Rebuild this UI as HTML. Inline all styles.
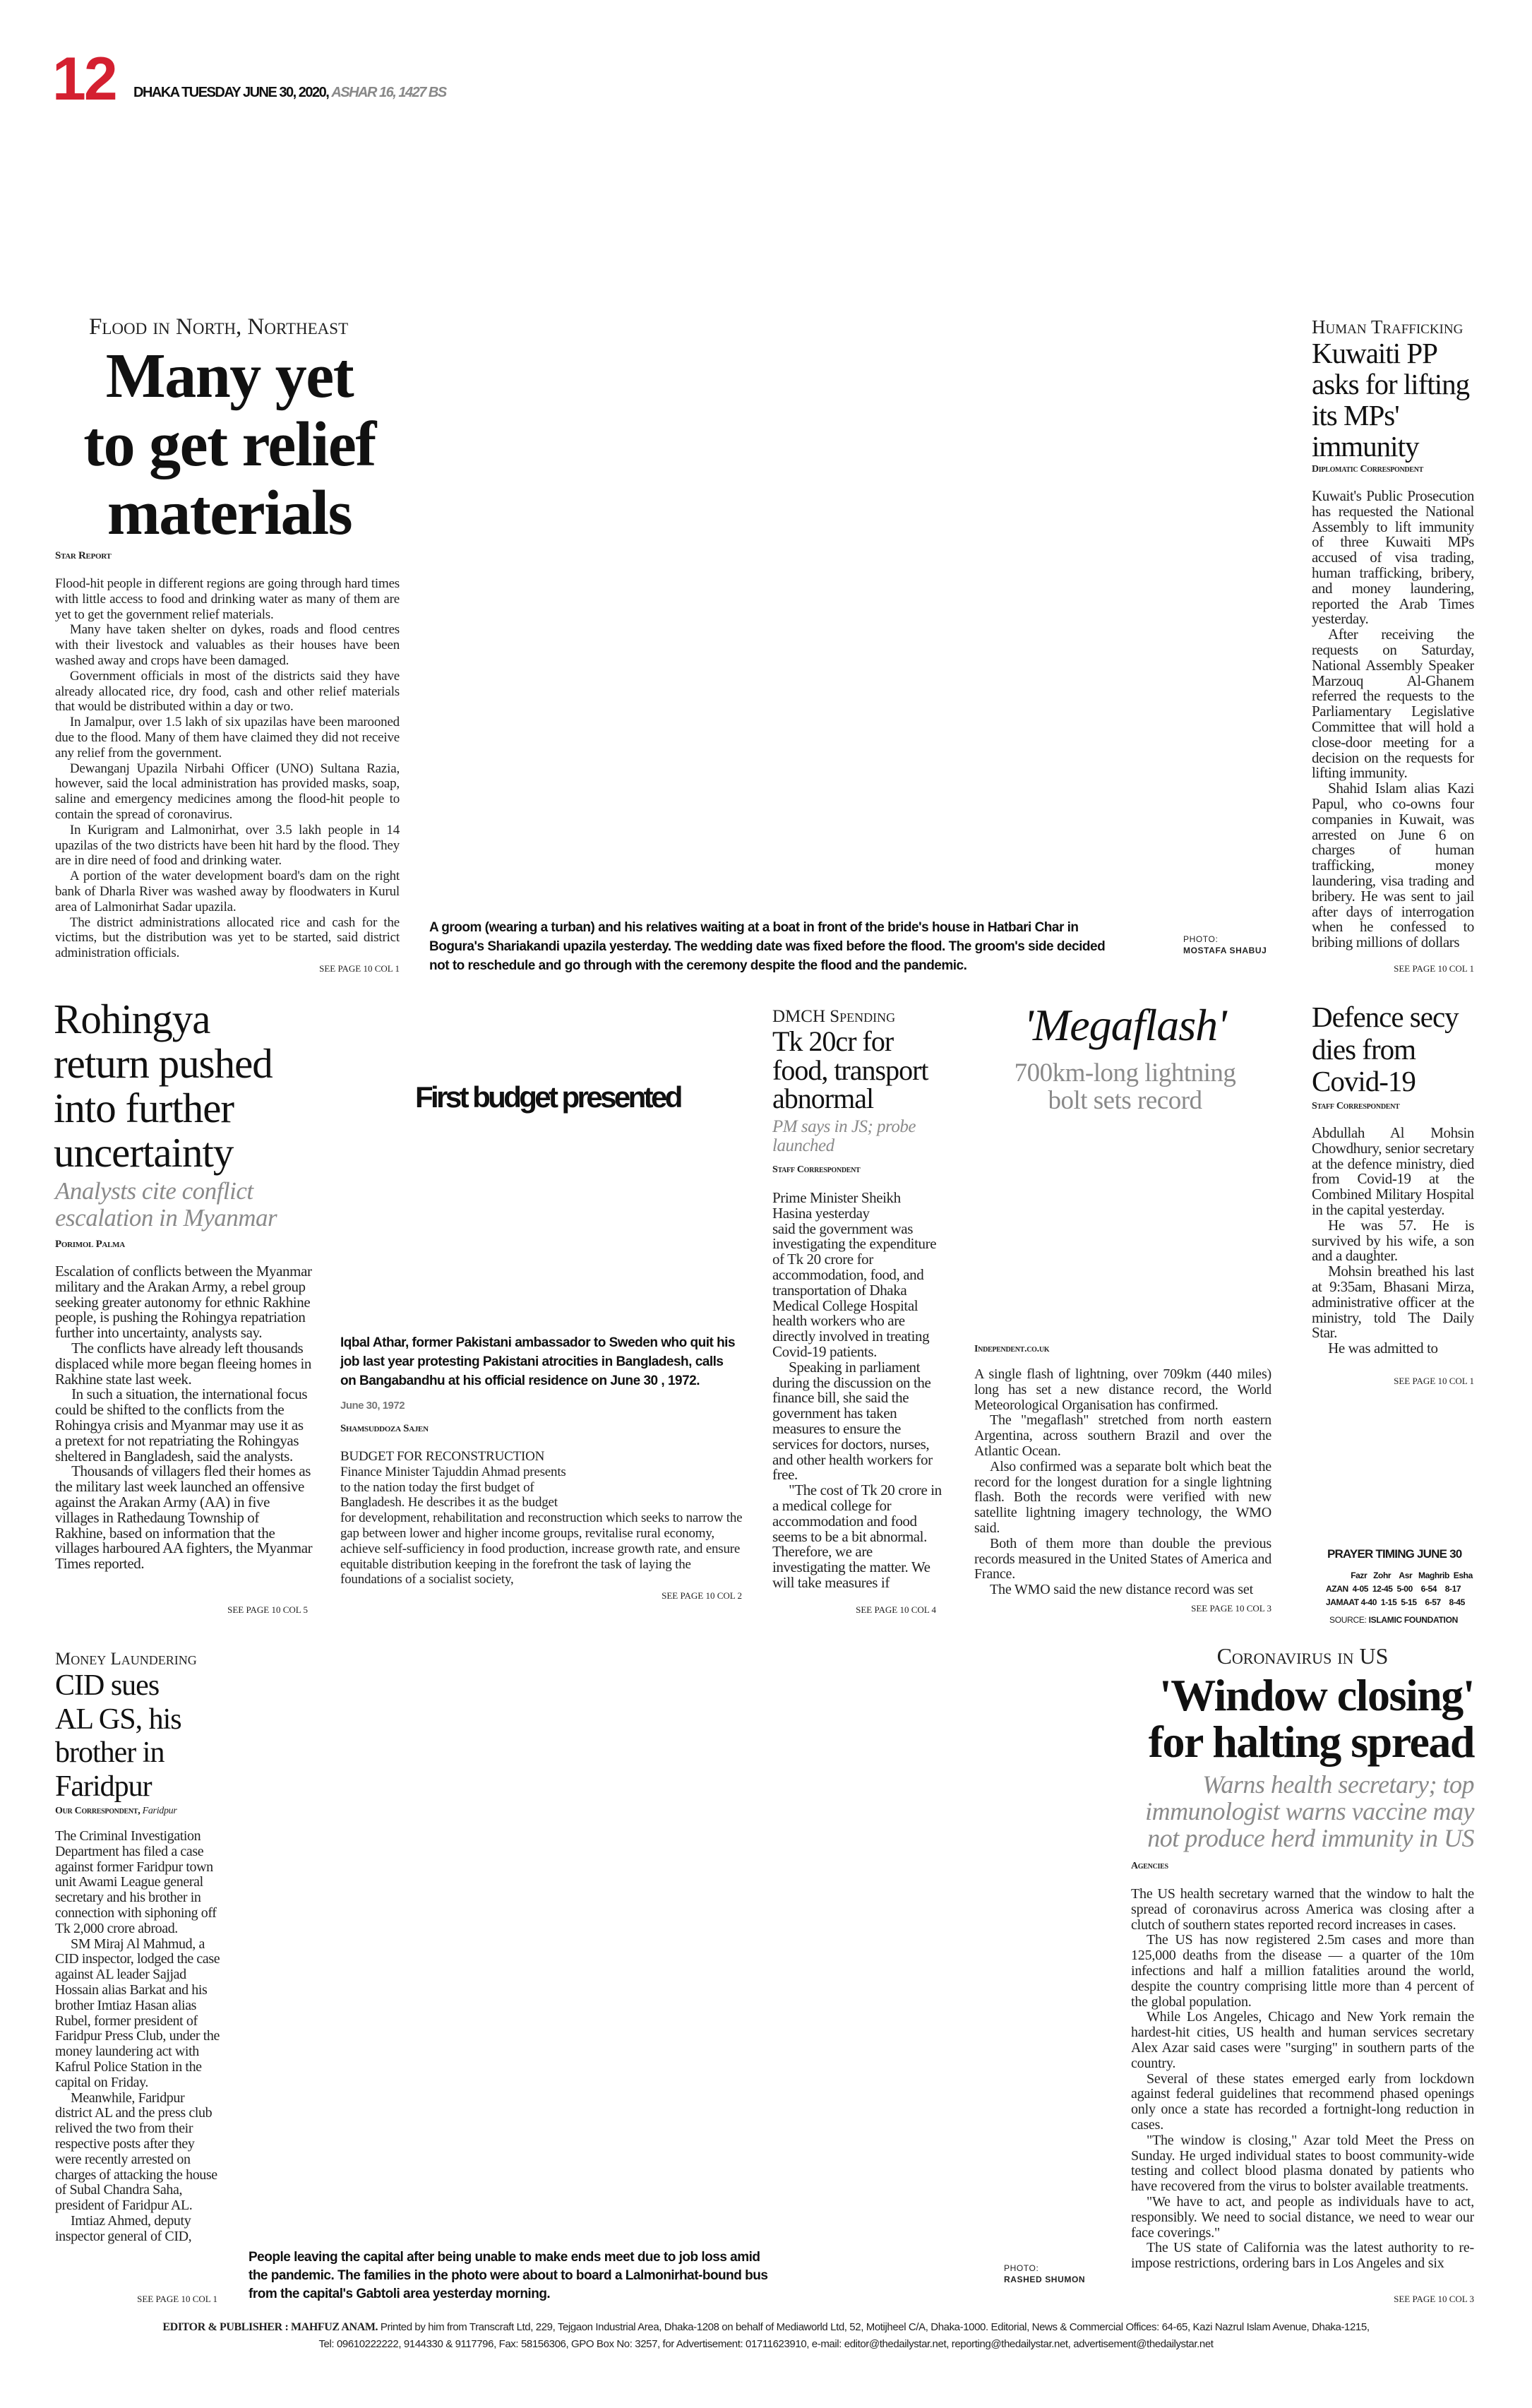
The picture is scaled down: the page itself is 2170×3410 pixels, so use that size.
<!DOCTYPE html>
<html><head><meta charset="utf-8"><style>
*{margin:0;padding:0;box-sizing:border-box}
html,body{width:2170px;height:3410px;background:#fff;overflow:hidden}
body{position:relative;font-family:"Liberation Serif",serif;color:#1a1a1a}
.a{position:absolute}
.body{font-family:"Liberation Serif",serif;font-size:19px;line-height:21.8px;color:#222;overflow:hidden;letter-spacing:-0.2px}
.n{font-size:21px;letter-spacing:-0.4px}
.body p{text-indent:1.1em}
.body p.f{text-indent:0}
.j{text-align:justify}
.kick{font-variant:small-caps;font-size:33px;line-height:34px;color:#222;white-space:nowrap}
.by{font-variant:small-caps;font-size:15px;font-weight:bold;line-height:18px;color:#222;white-space:nowrap;letter-spacing:-0.3px}
.see{font-size:13px;line-height:16px;color:#222;white-space:nowrap;text-align:right}
.cap{font-family:"Liberation Sans",sans-serif;font-weight:bold;font-size:19px;letter-spacing:-0.5px;color:#111;white-space:nowrap}
.hd{font-family:"Liberation Serif",serif;color:#111;white-space:nowrap;letter-spacing:-1px}
.sub{font-style:italic;color:#8a8a8a;white-space:nowrap;letter-spacing:-0.5px}
.ph{font-family:"Liberation Sans",sans-serif;font-size:12px;line-height:16px;letter-spacing:0.6px;color:#222}
</style></head><body>

<div class="a" style="left:74px;top:62px;font-family:'Liberation Sans',sans-serif;font-weight:bold;font-size:86px;line-height:100px;color:#d42030;letter-spacing:-3px">12</div>
<div class="a" style="left:189px;top:118px;font-family:'Liberation Sans',sans-serif;font-weight:bold;font-size:20px;line-height:26px;white-space:nowrap;letter-spacing:-1.5px;color:#111">DHAKA TUESDAY JUNE 30, 2020, <i style="color:#888">ASHAR 16, 1427 BS</i></div>

<!-- Flood -->
<div class="a kick" style="left:126px;top:446px">Flood in North, Northeast</div>
<div class="a hd" style="left:60px;width:530px;top:484px;text-align:center;font-size:90px;line-height:97px;font-weight:bold;letter-spacing:-1.5px">Many yet<br>to get relief<br>materials</div>
<div class="a by" style="left:78px;top:778px">Star Report</div>
<div class="a body j" style="left:78px;top:816px;width:488px;height:545px">
<p class="f">Flood-hit people in different regions are going through hard times with little access to food and drinking water as many of them are yet to get the government relief materials.</p>
<p>Many have taken shelter on dykes, roads and flood centres with their livestock and valuables as their houses have been washed away and crops have been damaged.</p>
<p>Government officials in most of the districts said they have already allocated rice, dry food, cash and other relief materials that would be distributed within a day or two.</p>
<p>In Jamalpur, over 1.5 lakh of six upazilas have been marooned due to the flood. Many of them have claimed they did not receive any relief from the government.</p>
<p>Dewanganj Upazila Nirbahi Officer (UNO) Sultana Razia, however, said the local administration has provided masks, soap, saline and emergency medicines among the flood-hit people to contain the spread of coronavirus.</p>
<p>In Kurigram and Lalmonirhat, over 3.5 lakh people in 14 upazilas of the two districts have been hit hard by the flood. They are in dire need of food and drinking water.</p>
<p>A portion of the water development board's dam on the right bank of Dharla River was washed away by floodwaters in Kurul area of Lalmonirhat Sadar upazila.</p>
<p>The district administrations allocated rice and cash for the victims, but the distribution was yet to be started, said district administration officials.</p>
</div>
<div class="a see" style="left:395px;width:171px;top:1364px">SEE PAGE 10 COL 1</div>

<div class="a cap" style="left:608px;top:1300px;line-height:27px">A groom (wearing a turban) and his relatives waiting at a boat in front of the bride's house in Hatbari Char in<br>Bogura's Shariakandi upazila yesterday. The wedding date was fixed before the flood. The groom's side decided<br>not to reschedule and go through with the ceremony despite the flood and the pandemic.</div>
<div class="a ph" style="left:1676px;top:1322px">PHOTO:<br><b>MOSTAFA SHABUJ</b></div>

<!-- Kuwait -->
<div class="a kick" style="left:1858px;top:446px;font-size:27px">Human Trafficking</div>
<div class="a hd" style="left:1858px;top:478px;font-size:41px;line-height:44px">Kuwaiti PP<br>asks for lifting<br>its MPs'<br>immunity</div>
<div class="a by" style="left:1858px;top:656px;font-size:14px">Diplomatic Correspondent</div>
<div class="a body j n" style="left:1858px;top:692px;width:230px;height:660px">
<p class="f">Kuwait's Public Prosecution has requested the National Assembly to lift immunity of three Kuwaiti MPs accused of visa trading, human trafficking, bribery, and money laundering, reported the Arab Times yesterday.</p>
<p>After receiving the requests on Saturday, National Assembly Speaker Marzouq Al-Ghanem referred the requests to the Parliamentary Legislative Committee that will hold a close-door meeting for a decision on the requests for lifting immunity.</p>
<p>Shahid Islam alias Kazi Papul, who co-owns four companies in Kuwait, was arrested on June 6 on charges of human trafficking, money laundering, visa trading and bribery. He was sent to jail after days of interrogation when he confessed to bribing millions of dollars</p>
</div>
<div class="a see" style="left:1917px;width:171px;top:1364px">SEE PAGE 10 COL 1</div>

<!-- Rohingya -->
<div class="a hd" style="left:76px;top:1412px;font-size:59px;line-height:63px">Rohingya<br>return pushed<br>into further<br>uncertainty</div>
<div class="a sub" style="left:78px;top:1668px;font-size:35px;line-height:38px">Analysts cite conflict<br>escalation in Myanmar</div>
<div class="a by" style="left:78px;top:1753px">Porimol Palma</div>
<div class="a body n" style="left:78px;top:1790px;width:365px;height:480px">
<p class="f">Escalation of conflicts between the Myanmar military and the Arakan Army, a rebel group seeking greater autonomy for ethnic Rakhine people, is pushing the Rohingya repatriation further into uncertainty, analysts say.</p>
<p>The conflicts have already left thousands displaced while more began fleeing homes in Rakhine state last week.</p>
<p>In such a situation, the international focus could be shifted to the conflicts from the Rohingya crisis and Myanmar may use it as a pretext for not repatriating the Rohingyas sheltered in Bangladesh, said the analysts.</p>
<p>Thousands of villagers fled their homes as the military last week launched an offensive against the Arakan Army (AA) in five villages in Rathedaung Township of Rakhine, based on information that the villages harboured AA fighters, the Myanmar Times reported.</p>
</div>
<div class="a see" style="left:265px;width:171px;top:2272px">SEE PAGE 10 COL 5</div>

<!-- Budget -->
<div class="a" style="left:588px;top:1530px;font-family:'Liberation Sans',sans-serif;font-weight:bold;font-size:42px;line-height:48px;letter-spacing:-3.6px;white-space:nowrap;color:#111">First budget presented</div>
<div class="a cap" style="left:482px;top:1888px;line-height:27px">Iqbal Athar, former Pakistani ambassador to Sweden who quit his<br>job last year protesting Pakistani atrocities in Bangladesh, calls<br>on Bangabandhu at his official residence on June 30 , 1972.</div>
<div class="a" style="left:482px;top:1982px;font-family:'Liberation Sans',sans-serif;font-weight:bold;font-size:15px;color:#777;letter-spacing:-0.5px">June 30, 1972</div>
<div class="a by" style="left:482px;top:2014px">Shamsuddoza Sajen</div>
<div class="a body" style="left:482px;top:2052px;width:570px;height:210px">
<p class="f">BUDGET FOR RECONSTRUCTION<br>Finance Minister Tajuddin Ahmad presents<br>to the nation today the first budget of<br>Bangladesh. He describes it as the budget<br>for development, rehabilitation and reconstruction which seeks to narrow the gap between lower and higher income groups, revitalise rural economy, achieve self-sufficiency in food production, increase growth rate, and ensure equitable distribution keeping in the forefront the task of laying the foundations of a socialist society,</p>
</div>
<div class="a see" style="left:880px;width:171px;top:2252px">SEE PAGE 10 COL 2</div>

<!-- DMCH -->
<div class="a kick" style="left:1094px;top:1423px;font-size:25px">DMCH Spending</div>
<div class="a hd" style="left:1094px;top:1455px;font-size:40px;line-height:40.5px">Tk 20cr for<br>food, transport<br>abnormal</div>
<div class="a sub" style="left:1094px;top:1582px;font-size:25px;line-height:27px">PM says in JS; probe<br>launched</div>
<div class="a by" style="left:1094px;top:1648px;font-size:14px">Staff Correspondent</div>
<div class="a body n" style="left:1094px;top:1686px;width:240px;height:578px">
<p class="f">Prime Minister Sheikh Hasina yesterday<br>said the government was investigating the expenditure of Tk 20 crore for accommodation, food, and transportation of Dhaka Medical College Hospital health workers who are directly involved in treating Covid-19 patients.</p>
<p>Speaking in parliament during the discussion on the finance bill, she said the government has taken measures to ensure the services for doctors, nurses, and other health workers for free.</p>
<p>"The cost of Tk 20 crore in a medical college for accommodation and food seems to be a bit abnormal. Therefore, we are investigating the matter. We will take measures if</p>
</div>
<div class="a see" style="left:1155px;width:171px;top:2272px">SEE PAGE 10 COL 4</div>

<!-- Megaflash -->
<div class="a" style="left:1380px;width:427px;top:1414px;text-align:center;font-style:italic;font-size:64px;line-height:76px;color:#111;letter-spacing:-1px">'Megaflash'</div>
<div class="a" style="left:1360px;width:467px;top:1500px;text-align:center;font-size:37px;line-height:39px;color:#8a8a8a;letter-spacing:-0.5px">700km-long lightning<br>bolt sets record</div>
<div class="a by" style="left:1380px;top:1902px;font-size:14px">Independent.co.uk</div>
<div class="a body j" style="left:1380px;top:1936px;width:421px;height:326px;font-size:20px">
<p class="f">A single flash of lightning, over 709km (440 miles) long has set a new distance record, the World Meteorological Organisation has confirmed.</p>
<p>The "megaflash" stretched from north eastern Argentina, across southern Brazil and over the Atlantic Ocean.</p>
<p>Also confirmed was a separate bolt which beat the record for the longest duration for a single lightning flash. Both the records were verified with new satellite lightning imagery technology, the WMO said.</p>
<p>Both of them more than double the previous records measured in the United States of America and France.</p>
<p>The WMO said the new distance record was set</p>
</div>
<div class="a see" style="left:1630px;width:171px;top:2270px">SEE PAGE 10 COL 3</div>

<!-- Defence -->
<div class="a hd" style="left:1858px;top:1418px;font-size:41px;line-height:45.5px">Defence secy<br>dies from<br>Covid-19</div>
<div class="a by" style="left:1858px;top:1558px;font-size:14px">Staff Correspondent</div>
<div class="a body j n" style="left:1858px;top:1594px;width:230px;height:352px">
<p class="f">Abdullah Al Mohsin Chowdhury, senior secretary at the defence ministry, died from Covid-19 at the Combined Military Hospital in the capital yesterday.</p>
<p>He was 57. He is survived by his wife, a son and a daughter.</p>
<p>Mohsin breathed his last at 9:35am, Bhasani Mirza, administrative officer at the ministry, told The Daily Star.</p>
<p>He was admitted to</p>
</div>
<div class="a see" style="left:1917px;width:171px;top:1948px">SEE PAGE 10 COL 1</div>

<!-- Prayer -->
<div class="a" style="left:1880px;top:2190px;font-family:'Liberation Sans',sans-serif;font-weight:bold;font-size:17px;letter-spacing:-0.8px;line-height:22px;white-space:nowrap">PRAYER TIMING JUNE 30</div>
<div class="a" style="left:1878px;top:2222px;font-family:'Liberation Sans',sans-serif;font-weight:bold;font-size:12px;line-height:19px;letter-spacing:-0.4px;white-space:pre;color:#111">            Fazr   Zohr    Asr   Maghrib  Esha
AZAN  4-05  12-45  5-00    6-54    8-17
JAMAAT 4-40  1-15  5-15    6-57    8-45</div>
<div class="a" style="left:1883px;top:2286px;font-family:'Liberation Sans',sans-serif;font-size:12px;line-height:16px;letter-spacing:-0.3px;white-space:nowrap">SOURCE: <b>ISLAMIC FOUNDATION</b></div>

<!-- Money laundering -->
<div class="a kick" style="left:78px;top:2333px;font-size:25px">Money Laundering</div>
<div class="a hd" style="left:78px;top:2364px;font-size:42px;line-height:47.5px">CID sues<br>AL GS, his<br>brother in<br>Faridpur</div>
<div class="a by" style="left:78px;top:2556px;font-size:14px">Our Correspondent, <i style="font-variant:normal;font-weight:normal">Faridpur</i></div>
<div class="a body n" style="left:78px;top:2590px;width:234px;height:636px;font-size:20px">
<p class="f">The Criminal Investigation Department has filed a case against former Faridpur town unit Awami League general secretary and his brother in connection with siphoning off Tk 2,000 crore abroad.</p>
<p>SM Miraj Al Mahmud, a CID inspector, lodged the case against AL leader Sajjad Hossain alias Barkat and his brother Imtiaz Hasan alias Rubel, former president of Faridpur Press Club, under the money laundering act with Kafrul Police Station in the capital on Friday.</p>
<p>Meanwhile, Faridpur district AL and the press club relived the two from their respective posts after they were recently arrested on charges of attacking the house of Subal Chandra Saha, president of Faridpur AL.</p>
<p>Imtiaz Ahmed, deputy inspector general of CID,</p>
</div>
<div class="a see" style="left:137px;width:171px;top:3248px">SEE PAGE 10 COL 1</div>

<div class="a cap" style="left:352px;top:3184px;line-height:26px">People leaving the capital after being unable to make ends meet due to job loss amid<br>the pandemic. The families in the photo were about to board a Lalmonirhat-bound bus<br>from the capital's Gabtoli area yesterday morning.</div>
<div class="a ph" style="left:1422px;top:3204px">PHOTO:<br><b>RASHED SHUMON</b></div>

<!-- Coronavirus -->
<div class="a kick" style="left:1602px;width:486px;top:2328px;text-align:center;font-size:32px">Coronavirus in US</div>
<div class="a hd" style="left:1560px;width:528px;top:2368px;text-align:right;font-size:64px;line-height:66px;font-weight:bold;letter-spacing:-1.5px">'Window closing'<br>for halting spread</div>
<div class="a sub" style="left:1560px;width:528px;top:2508px;text-align:right;font-size:36px;line-height:38px">Warns health secretary; top<br>immunologist warns vaccine may<br>not produce herd immunity in US</div>
<div class="a by" style="left:1602px;top:2634px;font-size:14px">Agencies</div>
<div class="a body j" style="left:1602px;top:2672px;width:486px;height:570px;font-size:20px">
<p class="f">The US health secretary warned that the window to halt the spread of coronavirus across America was closing after a clutch of southern states reported record increases in cases.</p>
<p>The US has now registered 2.5m cases and more than 125,000 deaths from the disease — a quarter of the 10m infections and half a million fatalities around the world, despite the country comprising little more than 4 percent of the global population.</p>
<p>While Los Angeles, Chicago and New York remain the hardest-hit cities, US health and human services secretary Alex Azar said cases were "surging" in southern parts of the country.</p>
<p>Several of these states emerged early from lockdown against federal guidelines that recommend phased openings only once a state has recorded a fortnight-long reduction in cases.</p>
<p>"The window is closing," Azar told Meet the Press on Sunday. He urged individual states to boost community-wide testing and collect blood plasma donated by patients who have recovered from the virus to bolster available treatments.</p>
<p>"We have to act, and people as individuals have to act, responsibly. We need to social distance, we need to wear our face coverings."</p>
<p>The US state of California was the latest authority to re-impose restrictions, ordering bars in Los Angeles and six</p>
</div>
<div class="a see" style="left:1917px;width:171px;top:3248px">SEE PAGE 10 COL 3</div>

<!-- Footer -->
<div class="a" style="left:0;width:2170px;top:3284px;text-align:center;font-family:'Liberation Sans',sans-serif;font-size:15px;line-height:24px;letter-spacing:-0.4px;color:#222;white-space:nowrap"><b style="font-family:'Liberation Serif',serif;font-size:16px">EDITOR &amp; PUBLISHER : MAHFUZ ANAM.</b> Printed by him from Transcraft Ltd, 229, Tejgaon Industrial Area, Dhaka-1208 on behalf of Mediaworld Ltd, 52, Motijheel C/A, Dhaka-1000. Editorial, News &amp; Commercial Offices: 64-65, Kazi Nazrul Islam Avenue, Dhaka-1215,<br>Tel: 09610222222, 9144330 &amp; 9117796, Fax: 58156306, GPO Box No: 3257, for Advertisement: 01711623910, e-mail: editor@thedailystar.net, reporting@thedailystar.net, advertisement@thedailystar.net</div>

</body></html>
